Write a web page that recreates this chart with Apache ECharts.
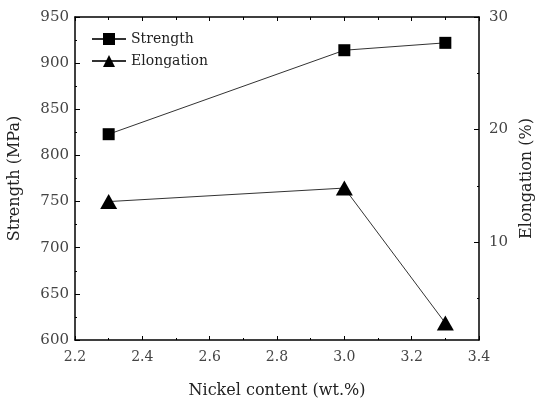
<!DOCTYPE html>
<html>
<head>
<meta charset="utf-8">
<script src="https://cdn.jsdelivr.net/npm/echarts@6/dist/echarts.min.js"></script>
<style>
  html, body { margin: 0; padding: 0; background: #fff; }
  #main { width: 535px; height: 401px; }
</style>
</head>
<body>
<div id="main"></div>
<script>
// data
var nickel = [2.3, 3.0, 3.3];
var strength = [823, 914, 922];
var elongation = [13.6, 14.8, 2.8];
var elongLabels = [10, 20, 30];
var elongMinor = [5, 15, 25];

var chart = echarts.init(document.getElementById('main'));
var font = '"DejaVu Serif", "Liberation Serif", serif';

var option = {
  animation: false,
  backgroundColor: '#fff',
  textStyle: { fontFamily: font },
  grid: { left: 75, right: 56, top: 17, bottom: 61, containLabel: false, outerBoundsMode: 'none' },
  legend: {
    left: 91, top: 32, padding: 0, orient: 'vertical', itemGap: 8,
    itemWidth: 34, itemHeight: 15,
    textStyle: { fontFamily: font, fontSize: 14, color: '#222' },
    data: ['Strength', 'Elongation']
  },
  xAxis: [
    {
      type: 'value', min: 2.2, max: 3.4, interval: 0.2,
      name: 'Nickel content (wt.%)', nameLocation: 'middle', nameGap: 43,
      nameTextStyle: { fontFamily: font, fontSize: 16, color: '#222' },
      axisLine: { lineStyle: { color: '#000', width: 1.5 } },
      axisTick: { inside: true, length: 4, lineStyle: { color: '#000' } },
      minorTick: { show: true, splitNumber: 2, length: 2, lineStyle: { color: '#000' } },
      axisLabel: { fontFamily: font, fontSize: 14, color: '#444', margin: 10,
        formatter: function (v) { return v.toFixed(1); } },
      splitLine: { show: false }
    },
    {
      type: 'value', position: 'top', min: 2.2, max: 3.4, interval: 0.2,
      axisLine: { lineStyle: { color: '#000', width: 1.5 } },
      axisTick: { inside: true, length: 4, lineStyle: { color: '#000' } },
      minorTick: { show: true, splitNumber: 2, length: 3, lineStyle: { color: '#000' } },
      axisLabel: { show: false },
      splitLine: { show: false }
    }
  ],
  yAxis: [
    {
      type: 'value', min: 600, max: 950, interval: 50,
      name: 'Strength (MPa)', nameLocation: 'middle', nameGap: 52,
      nameTextStyle: { fontFamily: font, fontSize: 16, color: '#222' },
      axisLine: { show: true, lineStyle: { color: '#000', width: 1.5 } },
      axisTick: { inside: true, length: 5, lineStyle: { color: '#000' } },
      minorTick: { show: true, splitNumber: 2, length: 2, lineStyle: { color: '#000' } },
      axisLabel: { fontFamily: font, fontSize: 15, color: '#444', margin: 6 },
      splitLine: { show: false }
    },
    {
      type: 'value', position: 'right', min: 1.3, max: 30,
      name: 'Elongation (%)', nameLocation: 'middle', nameGap: 36, nameRotate: 90,
      nameTextStyle: { fontFamily: font, fontSize: 16, color: '#222' },
      axisLine: { show: true, lineStyle: { color: '#000', width: 1.5 } },
      axisTick: { inside: true, length: 5, customValues: elongLabels, lineStyle: { color: '#000' } },
      axisLabel: { fontFamily: font, fontSize: 15, color: '#444', margin: 10, customValues: elongLabels },
      splitLine: { show: false }
    },
    {
      type: 'value', position: 'right', min: 1.3, max: 30,
      axisLine: { show: false },
      axisTick: { inside: true, length: 2, customValues: elongMinor, lineStyle: { color: '#000' } },
      axisLabel: { show: false },
      splitLine: { show: false }
    }
  ],
  series: [
    {
      name: 'Strength', type: 'line', xAxisIndex: 0, yAxisIndex: 0,
      data: nickel.map(function (x, i) { return [x, strength[i]]; }),
      symbol: 'rect', symbolSize: 12,
      itemStyle: { color: '#000' },
      lineStyle: { color: '#333', width: 1 }
    },
    {
      name: 'Elongation', type: 'line', xAxisIndex: 0, yAxisIndex: 1,
      data: nickel.map(function (x, i) { return [x, elongation[i]]; }),
      symbol: 'triangle', symbolSize: [17, 15],
      itemStyle: { color: '#000' },
      lineStyle: { color: '#333', width: 1 }
    }
  ]
};

chart.setOption(option);
</script>
</body>
</html>
